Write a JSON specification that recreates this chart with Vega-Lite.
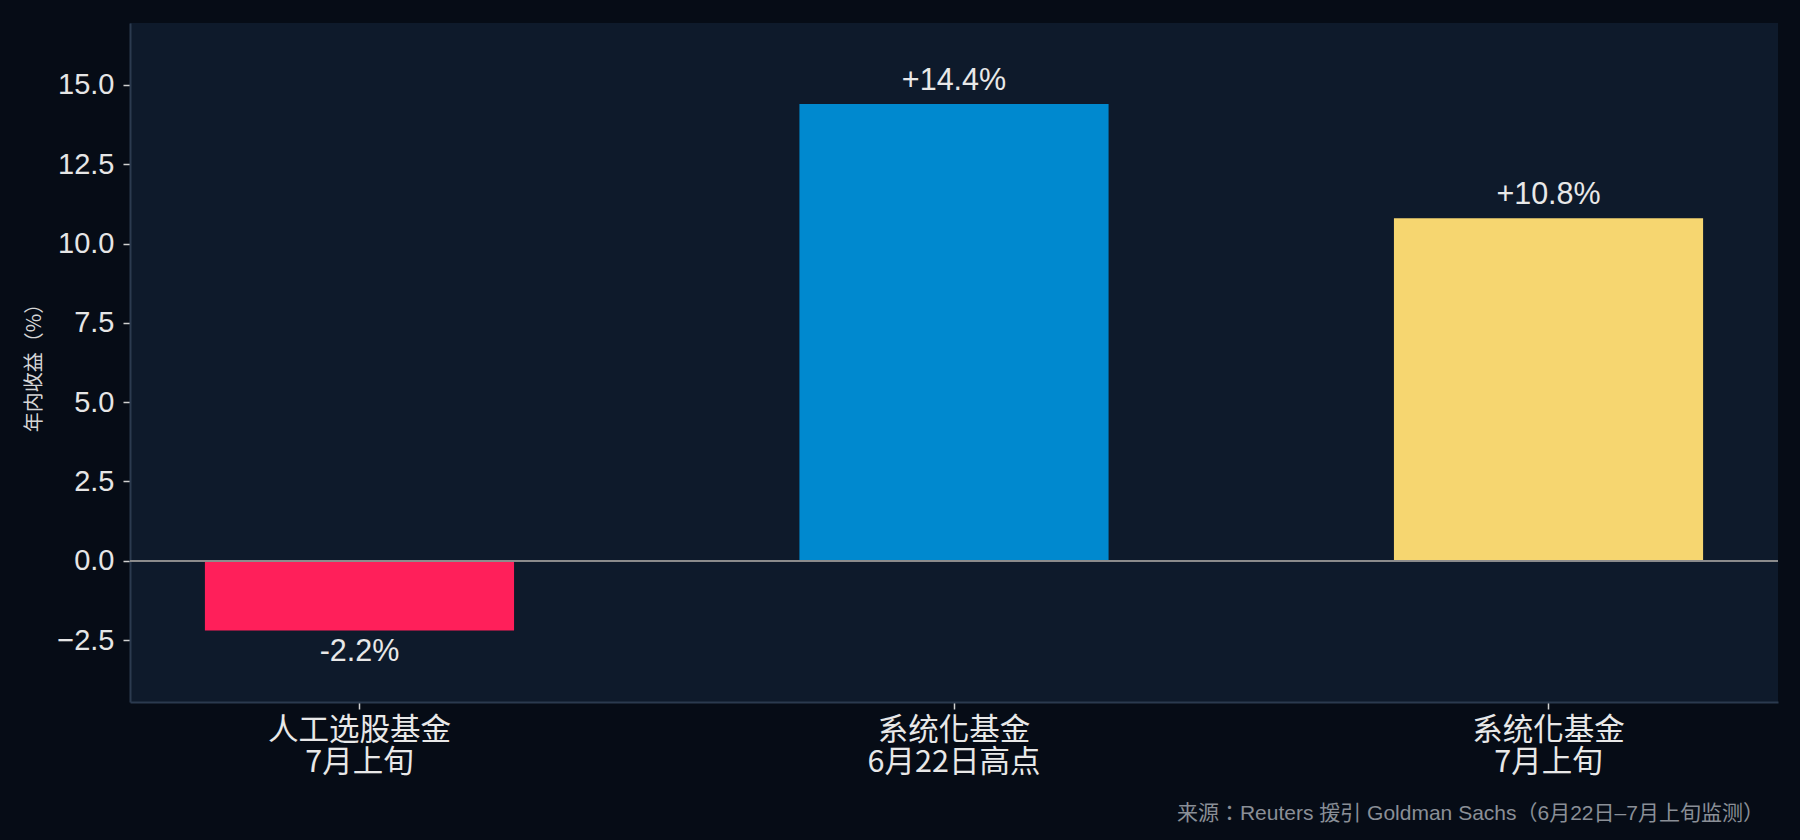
{
  "$schema": "https://vega.github.io/schema/vega-lite/v6.json",
  "width": 1648,
  "height": 679,
  "autosize": {"type": "none"},
  "padding": {"left": 130, "top": 23, "right": 22, "bottom": 138},
  "background": "#060c16",
  "config": {
    "view": {"fill": "#0e1a2b", "stroke": null},
    "font": "Liberation Sans, Noto Sans CJK TC"
  },
  "title": {
    "text": "来源：Reuters 援引 Goldman Sachs（6月22日–7月上旬监测）",
    "orient": "bottom",
    "anchor": "end",
    "font": "Liberation Sans, Noto Sans CJK KR",
    "fontSize": 21,
    "fontWeight": "normal",
    "color": "#8a8f97",
    "offset": 25,
    "dx": -15
  },
  "data": {
    "values": [
      {"cat": "人工选股基金\n7月上旬", "value": -2.2, "text": "-2.2%"},
      {"cat": "系统化基金\n6月22日高点", "value": 14.4, "text": "+14.4%"},
      {"cat": "系统化基金\n7月上旬", "value": 10.8, "text": "+10.8%"}
    ]
  },
  "layer": [
    {
      "mark": {"type": "bar"},
      "encoding": {
        "x": {
          "field": "cat",
          "type": "nominal",
          "sort": null,
          "scale": {"paddingInner": 0.48, "paddingOuter": 0.126},
          "axis": {
            "title": null,
            "labelAngle": 0,
            "labelExpr": "split(datum.label, '\\n')",
            "labelFont": "Noto Sans CJK TC",
            "labelFontSize": 30.5,
            "labelLineHeight": 32,
            "labelLimit": 0,
            "labelColor": "#e8e8e8",
            "labelPadding": 6,
            "tickColor": "#d0d0d0",
            "tickSize": 7,
            "tickWidth": 1.5,
            "domainColor": "#2b3a4f",
            "domainWidth": 2
          }
        },
        "y": {
          "field": "value",
          "type": "quantitative",
          "scale": {"domain": [-4.45, 16.95], "nice": false, "zero": false},
          "axis": {
            "values": [-2.5, 0, 2.5, 5, 7.5, 10, 12.5, 15],
            "format": ".1f",
            "grid": false,
            "domainColor": "#2b3a4f",
            "domainWidth": 2,
            "tickColor": "#d0d0d0",
            "tickSize": 7,
            "tickWidth": 1.5,
            "labelFont": "Liberation Sans",
            "labelFontSize": 29,
            "labelColor": "#e6e6e6",
            "labelPadding": 9,
            "title": "年内收益（%）",
            "titleFont": "Noto Sans CJK JP",
            "titleFontSize": 20,
            "titleColor": "#d6d6d6",
            "titleFontWeight": "normal",
            "titlePadding": 12
          }
        },
        "color": {
          "field": "cat",
          "type": "nominal",
          "scale": {
            "domain": ["人工选股基金\n7月上旬", "系统化基金\n6月22日高点", "系统化基金\n7月上旬"],
            "range": ["#ff1f5a", "#0089cf", "#f6d670"]
          },
          "legend": null
        }
      }
    },
    {
      "mark": {"type": "rule", "color": "#8c8c8c", "strokeWidth": 1.8},
      "encoding": {"y": {"datum": 0, "type": "quantitative"}}
    },
    {
      "transform": [{"filter": "datum.value >= 0"}],
      "mark": {"type": "text", "baseline": "alphabetic", "dy": -14, "font": "Liberation Sans", "fontSize": 30.5, "color": "#e8e8e8"},
      "encoding": {
        "x": {"field": "cat", "type": "nominal", "sort": null},
        "y": {"field": "value", "type": "quantitative"},
        "text": {"field": "text"}
      }
    },
    {
      "transform": [{"filter": "datum.value < 0"}],
      "mark": {"type": "text", "baseline": "alphabetic", "dy": 30, "font": "Liberation Sans", "fontSize": 30.5, "color": "#e8e8e8"},
      "encoding": {
        "x": {"field": "cat", "type": "nominal", "sort": null},
        "y": {"field": "value", "type": "quantitative"},
        "text": {"field": "text"}
      }
    }
  ]
}
